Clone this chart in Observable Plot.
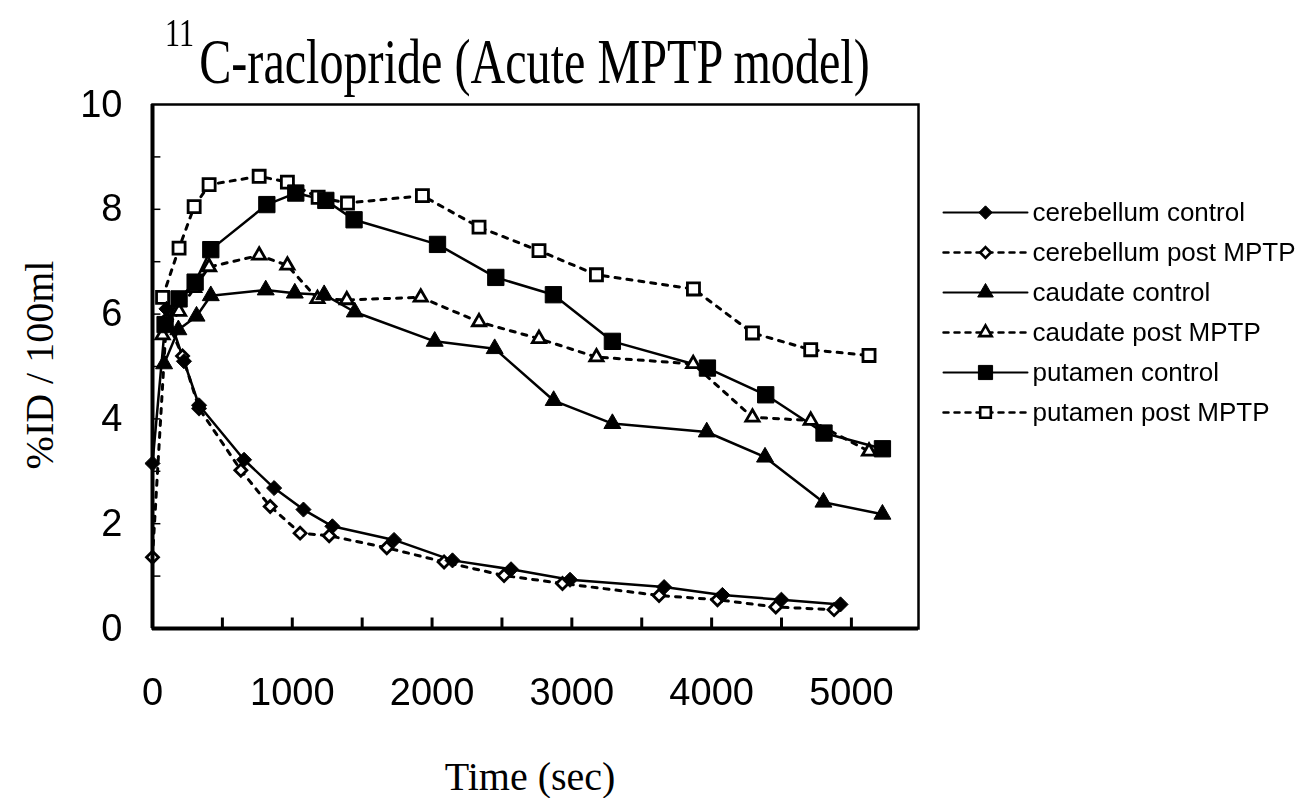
<!DOCTYPE html>
<html>
<head>
<meta charset="utf-8">
<script src="https://cdn.jsdelivr.net/npm/d3@7"></script>
<script src="https://cdn.jsdelivr.net/npm/@observablehq/plot@0.6"></script>
<style>
  html, body { margin: 0; padding: 0; background: #fff; overflow: hidden; }
  #wrap { position: relative; width: 1301px; height: 798px; background: #fff; color: #000; }
  #wrap > svg { position: absolute; }
  .serif { font-family: "Liberation Serif", "Times New Roman", Times, serif; color: #000; position: absolute; white-space: nowrap; line-height: 1; }
  #title { left: 165px; top: 30px; font-size: 64px; transform-origin: 0 0; transform: scaleX(0.752); }
  #title .sup { font-size: 40px; position: relative; top: -37px; margin-right: 7px; }
  #xlabel { left: 530px; top: 757px; font-size: 40px; transform: translateX(-50%); }
  #ylabel { left: 0; top: 0; font-size: 40px; transform-origin: 0 0; transform: translate(53px, 365px) rotate(-90deg) translate(-50%, -33.5px); }
</style>
</head>
<body>
<div id="wrap">
  <div id="title" class="serif"><span class="sup">11</span>C-raclopride (Acute MPTP model)</div>
  <div id="xlabel" class="serif">Time (sec)</div>
  <div id="ylabel" class="serif">%ID / 100ml</div>
</div>
<script>
// ---- data ----
const seriesNames = [
  "cerebellum control",
  "cerebellum post MPTP",
  "caudate control",
  "caudate post MPTP",
  "putamen control",
  "putamen post MPTP"
];

const cerebellumControlTime  = [0, 100, 225, 333, 655, 870, 1080, 1287, 1728, 2146, 2565, 2987, 3660, 4077, 4499, 4922];
const cerebellumControlValue = [3.15, 6.1, 5.1, 4.26, 3.22, 2.68, 2.27, 1.95, 1.69, 1.30, 1.13, 0.93, 0.79, 0.64, 0.55, 0.46];

const cerebellumPostTime  = [0, 100, 215, 333, 632, 842, 1056, 1264, 1676, 2086, 2515, 2933, 3624, 4042, 4459, 4876];
const cerebellumPostValue = [1.36, 5.9, 5.2, 4.2, 3.02, 2.33, 1.82, 1.77, 1.54, 1.27, 1.01, 0.86, 0.63, 0.55, 0.41, 0.36];

const caudateControlTime  = [83, 185, 315, 417, 810, 1018, 1228, 1447, 2019, 2448, 2870, 3290, 3965, 4382, 4800, 5222];
const caudateControlValue = [5.05, 5.7, 5.96, 6.35, 6.46, 6.40, 6.37, 6.04, 5.48, 5.34, 4.35, 3.91, 3.75, 3.27, 2.41, 2.18];

const caudatePostTime  = [72, 190, 298, 405, 763, 965, 1180, 1390, 1919, 2336, 2765, 3176, 3868, 4292, 4709, 5126];
const caudatePostValue = [5.6, 6.05, 6.5, 6.9, 7.12, 6.93, 6.29, 6.27, 6.32, 5.85, 5.53, 5.18, 5.05, 4.03, 3.97, 3.38];

const putamenControlTime  = [90, 190, 305, 417, 818, 1025, 1240, 1442, 2039, 2456, 2868, 3290, 3970, 4387, 4804, 5222];
const putamenControlValue = [5.8, 6.29, 6.61, 7.23, 8.09, 8.31, 8.17, 7.80, 7.33, 6.70, 6.37, 5.48, 4.97, 4.46, 3.73, 3.43];

const putamenPostTime  = [72, 190, 298, 405, 763, 965, 1185, 1395, 1931, 2336, 2765, 3176, 3870, 4292, 4709, 5126];
const putamenPostValue = [6.32, 7.26, 8.05, 8.47, 8.63, 8.52, 8.23, 8.12, 8.26, 7.66, 7.21, 6.75, 6.48, 5.64, 5.32, 5.21];

const xTickLabels = [0, 1000, 2000, 3000, 4000, 5000];
const xTickMarks  = [0, 500, 1000, 1500, 2000, 2500, 3000, 3500, 4000, 4500, 5000];
const yTickLabels = [0, 2, 4, 6, 8, 10];
const yTickMarks  = [1, 2, 3, 4, 5, 6, 7, 8, 9];

// ---- build table ----
const times  = [cerebellumControlTime, cerebellumPostTime, caudateControlTime, caudatePostTime, putamenControlTime, putamenPostTime];
const values = [cerebellumControlValue, cerebellumPostValue, caudateControlValue, caudatePostValue, putamenControlValue, putamenPostValue];
const rows = seriesNames.flatMap((name, i) => times[i].map((t, j) => ({name, t, v: values[i][j]})));

// styles per series (presentation only)
const style = {
  "cerebellum control":   {symbol: "diamond2", filled: true,  dashed: false, r: 6.8, lr: 6.0},
  "cerebellum post MPTP": {symbol: "diamond2", filled: false, dashed: true,  r: 5.4, lr: 4.8},
  "caudate control":      {symbol: "triangle", filled: true,  dashed: false, r: 6.3, lr: 5.8},
  "caudate post MPTP":    {symbol: "triangle", filled: false, dashed: true,  r: 4.9, lr: 4.6},
  "putamen control":      {symbol: "square",   filled: true,  dashed: false, r: 9.2, lr: 8.0},
  "putamen post MPTP":    {symbol: "square",   filled: false, dashed: true,  r: 6.8, lr: 6.0}
};

const lineMarks = seriesNames.map(name => Plot.line(rows.filter(d => d.name === name), {
  x: "t", y: "v", stroke: "black",
  strokeWidth: style[name].dashed ? 3 : 2.5,
  strokeDasharray: style[name].dashed ? "5,7" : null
}));
const order = seriesNames.filter(n => !style[n].filled).concat(seriesNames.filter(n => style[n].filled));
const dotMarks = order.map(name => Plot.dot(rows.filter(d => d.name === name), {
  x: "t", y: "v", symbol: () => style[name].symbol, r: style[name].r,
  fill: style[name].filled ? "black" : "white",
  stroke: "black", strokeWidth: style[name].filled ? 1 : 2.8
}));

const chart = Plot.plot({
  width: 1301,
  height: 798,
  marginLeft: 152,
  marginRight: 383,
  marginTop: 104,
  marginBottom: 170,
  style: {fontFamily: "'Liberation Sans', Arial, sans-serif", color: "black", background: "transparent", overflow: "visible"},
  x: {domain: [0, 5480]},
  y: {domain: [0, 10]},
  symbol: {type: "identity"},
  marks: [
    Plot.ruleX(xTickMarks, {y1: 0, y2: 0.2, stroke: "black", strokeWidth: 3}),
    Plot.ruleY(yTickMarks, {x1: 0, x2: 60, stroke: "black", strokeWidth: 1.5}),
    ...lineMarks,
    ...dotMarks,
    Plot.frame({stroke: "black", strokeWidth: 2.5}),
    Plot.ruleX([0], {stroke: "black", strokeWidth: 4}),
    Plot.ruleY([0], {stroke: "black", strokeWidth: 4}),
    Plot.axisX({ticks: xTickLabels, tickFormat: d => String(d), tickSize: 0, tickPadding: 50, fontSize: 38, label: null}),
    Plot.axisY({ticks: yTickLabels, tickFormat: d => String(d), tickSize: 0, tickPadding: 30, fontSize: 38, label: null})
  ]
});
chart.style.left = "0px";
chart.style.top = "0px";
document.getElementById("wrap").appendChild(chart);

// ---- legend ----
const legendRows = seriesNames.flatMap(name => [0, 1].map(k => ({name, k})));
const legend = Plot.plot({
  width: 366,
  height: 260,
  marginLeft: 8,
  marginRight: 274,
  marginTop: 21,
  marginBottom: 37,
  style: {fontFamily: "'Liberation Sans', Arial, sans-serif", color: "black", background: "transparent", overflow: "visible"},
  x: {domain: [0, 1], axis: null},
  y: {type: "point", domain: seriesNames, padding: 0, axis: null},
  r: {type: "identity"},
  symbol: {type: "identity"},
  marks: [
    ...seriesNames.map(name => Plot.line(legendRows.filter(d => d.name === name), {
      x: "k", y: "name", stroke: "black",
      strokeWidth: style[name].dashed ? 2.5 : 2,
      strokeDasharray: style[name].dashed ? "5,6" : null
    })),
    Plot.dot(seriesNames, {
      x: () => 0.5, y: d => d, symbol: d => style[d].symbol, r: d => style[d].lr,
      fill: d => style[d].filled ? "black" : "white", stroke: "black",
      strokeWidth: d => style[d].filled ? 1 : 2.6
    }),
    Plot.text(seriesNames, {x: () => 1, y: d => d, text: d => d, textAnchor: "start", dx: 5, fontSize: 26, fill: "black"})
  ]
});
legend.style.left = "935px";
legend.style.top = "190px";
document.getElementById("wrap").appendChild(legend);
</script>
</body>
</html>
